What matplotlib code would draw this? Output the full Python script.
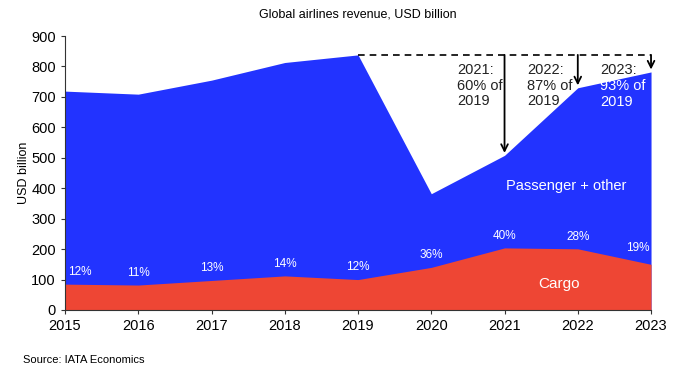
import matplotlib
matplotlib.use("Agg")
import matplotlib.pyplot as plt
import numpy as np

years = [2015, 2016, 2017, 2018, 2019, 2020, 2021, 2022, 2023]
total = [719, 709, 755, 813, 838, 382, 508, 730, 782]
cargo = [85, 82, 97, 112, 100, 140, 204, 201, 150]
cargo_share = ["12%", "11%", "13%", "14%", "12%", "36%", "40%", "28%", "19%"]
recovery_years = [2021, 2022, 2023]
recovery_text = ["60% of\n2019", "87% of\n2019", "93% of\n2019"]

plt.rcParams['font.family'] = ['Liberation Sans', 'DejaVu Sans']

BLUE = "#2233FF"
RED = "#EE4634"

fig = plt.figure(figsize=(6.83, 3.69), dpi=100)
ax = fig.add_axes([0.0952, 0.1599, 0.858, 0.7425])

ax.fill_between(years, 0, total, color=BLUE, linewidth=0)
ax.fill_between(years, 0, cargo, color=RED, linewidth=0)

ax.set_xlim(2015, 2023)
ax.set_ylim(0, 900)
ax.set_yticks(range(0, 901, 100))
ax.set_xticks(years)
for s in ["top", "right"]:
    ax.spines[s].set_visible(False)
ax.spines["left"].set_color("#333333")
ax.spines["bottom"].set_color("#333333")
ax.tick_params(axis="both", labelsize=10.5, length=3, color="#333333")
ax.set_ylabel("USD billion", fontsize=9, labelpad=1)

ax.set_title("Global airlines revenue, USD billion", fontsize=9, pad=13)

# share labels
for i, (x, c, s) in enumerate(zip(years, cargo, cargo_share)):
    dx = 0
    if i == 0:
        dx = 0.2
    elif i == len(years) - 1:
        dx = -0.18
    off = 40 if i < len(years) - 1 else 55
    ax.text(x + dx, c + off, s, color="white", fontsize=8.5, ha="center", va="center")

# dashed reference line at 2019 level
ref = total[years.index(2019)]
ax.plot([2019, 2023], [ref, ref], color="black", linestyle=(0, (4, 3)), linewidth=1.2, clip_on=False)
for y in recovery_years:
    v = total[years.index(y)]
    ax.annotate("", xy=(y, v + 8), xytext=(y, ref),
                arrowprops=dict(arrowstyle="->", color="black", lw=1.3, mutation_scale=12,
                                shrinkA=0, shrinkB=0))

tx = [2020.35, 2021.31, 2022.30]
ty = 810
line_h = 52
ls = 1.12
ax.text(tx[0], ty, "2021:\n" + recovery_text[0], fontsize=10.5, va="top", ha="left",
        linespacing=ls, color="#222222")
ax.text(tx[1], ty, "2022:\n" + recovery_text[1], fontsize=10.5, va="top", ha="left",
        linespacing=ls, color="#222222")
ax.text(tx[2], ty, "2023:", fontsize=10.5, va="top", ha="left", color="#222222")
ax.text(tx[2], ty - line_h, recovery_text[2], fontsize=10.5, va="top", ha="left", color="white",
        linespacing=ls)

ax.text(2021.84, 407, "Passenger + other", color="white", fontsize=10.5, ha="center", va="center")
ax.text(2021.74, 85, "Cargo", color="white", fontsize=11, ha="center", va="center")

fig.text(0.034, 0.025, "Source: IATA Economics", fontsize=8, ha="left", va="center")

fig.savefig("out.png", dpi=100)
